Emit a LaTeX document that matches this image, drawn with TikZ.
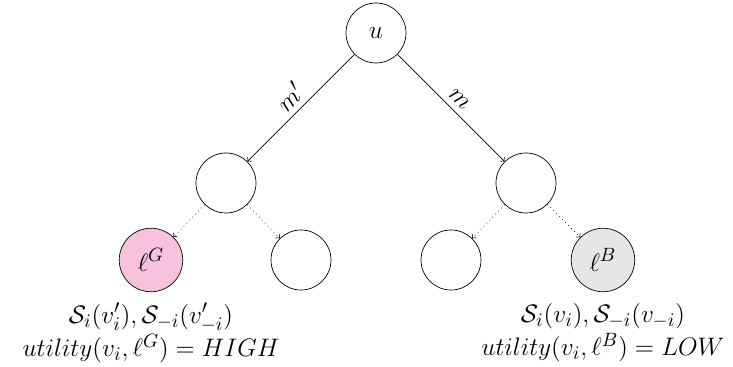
\documentclass[tikz,border=0pt]{standalone}
\usepackage{amsmath}
\usetikzlibrary{positioning}
\definecolor{goodpink}{RGB}{246,194,220}
\definecolor{badgray}{RGB}{230,230,230}
\begin{document}
\begin{tikzpicture}[
    font=\fontsize{15.8}{19}\selectfont,
    state/.style={circle, draw, minimum size=1.2cm, inner sep=0pt},
    leaf/.style={state, minimum size=1.27cm}]
\useasboundingbox (-7.52,0.66) rectangle (7.14,-6.68);

\node[state] (u) at (0,0) {$u$};
\node[state] (l) at (-3,-3) {};
\node[state] (r) at (3,-3) {};

\node[leaf, fill=goodpink] (ll) at (-4.5,-4.54) {$\ell^G$};
\node[state] (lr) at (-1.5,-4.54) {};
\node[state] (rl) at (1.5,-4.54) {};
\node[leaf, fill=badgray] (rr) at (4.54,-4.54) {$\ell^B$};

\draw[->] (u)--(l) node[midway, sloped, above]{$m'$};
\draw[->] (u)--(r) node[midway, sloped, above]{$m$};

\foreach \a/\b in {l/ll,l/lr,r/rl,r/rr}
{
    \draw[->, dotted] (\a)--(\b);
}

\node[align=center, below=0.1cm of ll] (gtext)
    {$\mathcal{S}_i(v_i'), \mathcal{S}_{-i}(v'_{-i})$\\
     $utility(v_i, \ell^G) = HIGH$};
\node[align=center, below=0.1cm of rr] (btext)
    {$\mathcal{S}_i(v_i), \mathcal{S}_{-i}(v_{-i})$\\
     $utility(v_i, \ell^B) = LOW$};
\end{tikzpicture}
\end{document}
